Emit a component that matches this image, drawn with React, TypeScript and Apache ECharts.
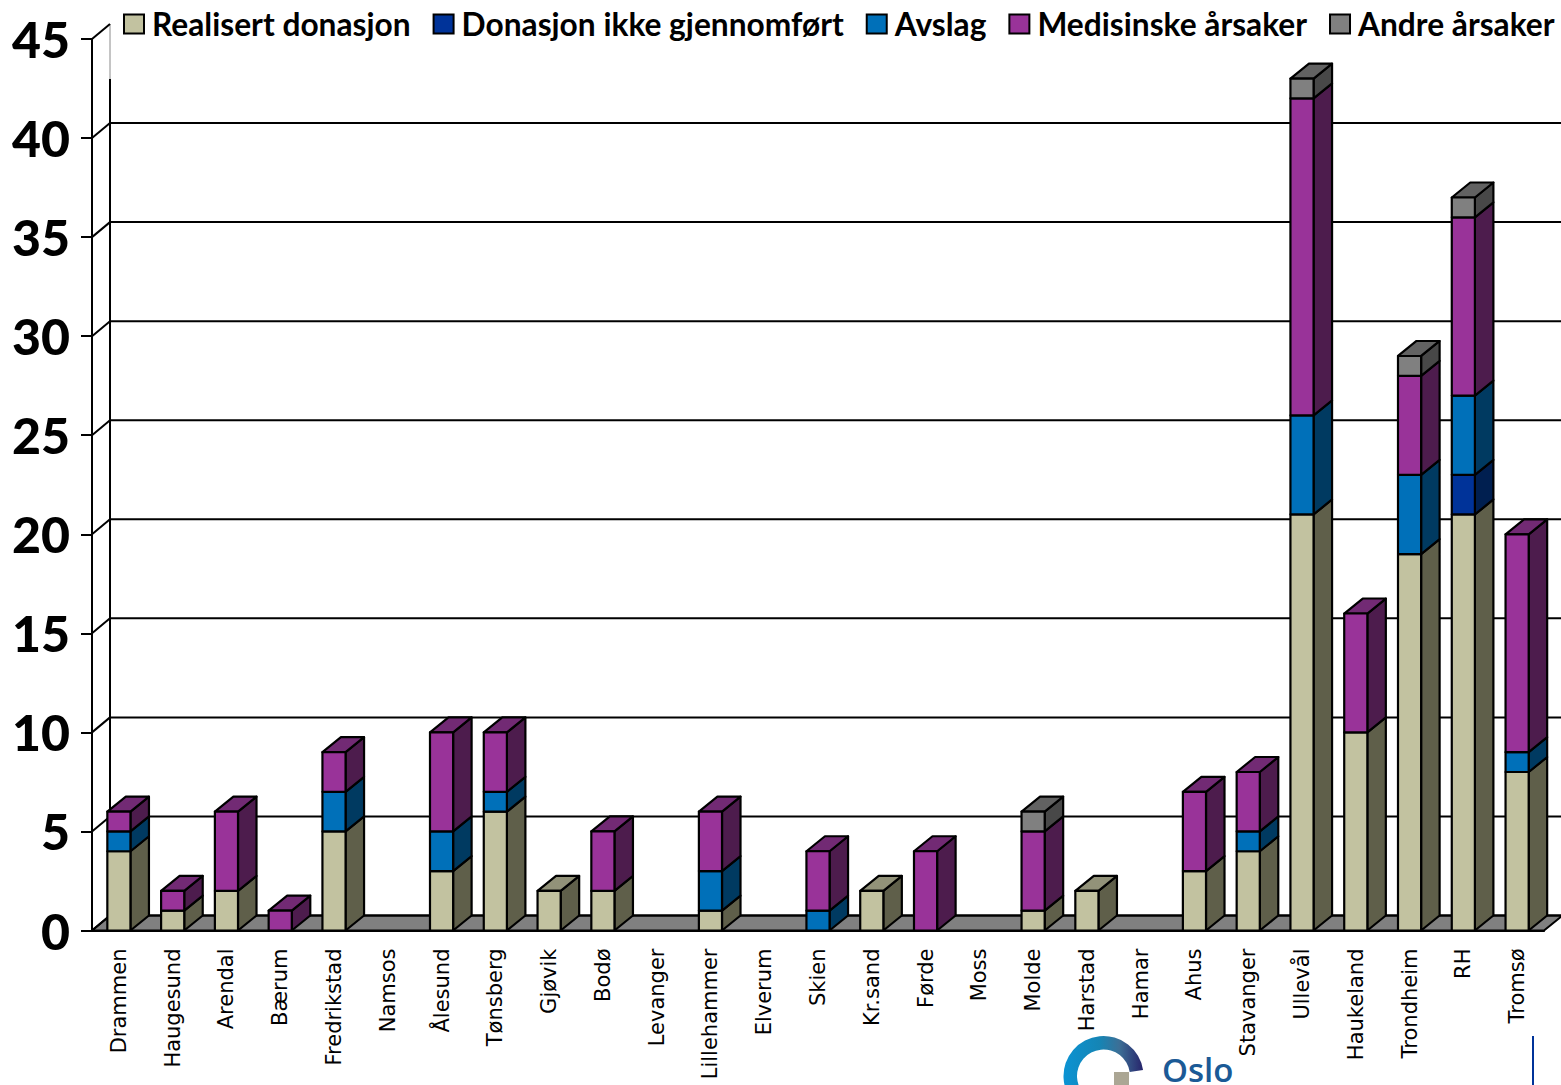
import React, { useEffect, useRef } from "react";
import * as echarts from "echarts";

const categories = ["Drammen","Haugesund","Arendal","Bærum","Fredrikstad","Namsos","Ålesund","Tønsberg","Gjøvik","Bodø","Levanger","Lillehammer","Elverum","Skien","Kr.sand","Førde","Moss","Molde","Harstad","Hamar","Ahus","Stavanger","Ullevål","Haukeland","Trondheim","RH","Tromsø"];
const realisert = [4,1,2,0,5,0,3,6,2,2,0,1,0,0,2,0,0,1,2,0,3,4,21,10,19,21,8];
const ikkeGjennomfort = [0,0,0,0,0,0,0,0,0,0,0,0,0,0,0,0,0,0,0,0,0,0,0,0,0,2,0];
const avslag = [1,0,0,0,2,0,2,1,0,0,0,2,0,1,0,0,0,0,0,0,0,1,5,0,4,4,1];
const medisinske = [1,1,4,1,2,0,5,3,0,3,0,3,0,3,0,4,0,4,0,0,4,3,16,6,5,9,11];
const andre = [0,0,0,0,0,0,0,0,0,0,0,0,0,0,0,0,0,1,0,0,0,0,1,0,1,1,0];
const yTicks = [0,5,10,15,20,25,30,35,40,45];

const stackDefs = [
  { name: "Realisert donasjon", values: realisert, front: "#c2c2a0", side: "#5f5f4a", top: "#929279" },
  { name: "Donasjon ikke gjennomført", values: ikkeGjennomfort, front: "#003399", side: "#001f50", top: "#00266f" },
  { name: "Avslag", values: avslag, front: "#0070b9", side: "#003a61", top: "#00538a" },
  { name: "Medisinske årsaker", values: medisinske, front: "#993399", side: "#4d1c4d", top: "#722a74" },
  { name: "Andre årsaker", values: andre, front: "#808080", side: "#484848", top: "#626262" },
];

const DX = 18.5;
const DY = 15;
const BAR_RATIO = 0.43;

function buildStackData(idx: number) {
  const out: number[][] = [];
  categories.forEach((_, c) => {
    let base = 0;
    for (let i = 0; i < idx; i++) base += stackDefs[i].values[c];
    const v = stackDefs[idx].values[c];
    if (!v) return;
    let above = 0;
    for (let i = idx + 1; i < stackDefs.length; i++) above += stackDefs[i].values[c];
    out.push([c, base, base + v, above === 0 ? 1 : 0]);
  });
  return out;
}

const stroke = { stroke: "#000", lineWidth: 2.2, lineJoin: "round" };

function App() {
  const ref = useRef<HTMLDivElement>(null);
  useEffect(() => {
    document.body.style.margin = "0";
    document.body.style.overflow = "hidden";
    const chart = echarts.init(ref.current!, null, { renderer: "svg" });

    const wall = {
      type: "custom",
      silent: true,
      z: 1,
      data: yTicks.map((v) => [0, v]),
      encode: { x: 0, y: 1 },
      renderItem: (params: any, api: any) => {
        const v = api.value(1);
        const cs = params.coordSys;
        const left = cs.x;
        const right = cs.x + cs.width;
        const y = api.coord([0, v])[1];
        const children: any[] = [
          { type: "line", shape: { x1: left, y1: y, x2: left + 18, y2: y - DY }, style: { stroke: "#000", lineWidth: 2 } },
        ];
        if (v === 0) {
          children.unshift({
            type: "polygon",
            shape: { points: [[left, y], [right, y], [right + DX, y - DY], [left + 18, y - DY]] },
            style: { fill: "#808080", stroke: "#000", lineWidth: 2 },
          });
          children.push({ type: "line", shape: { x1: left + 18, y1: y - DY, x2: left + 18, y2: cs.y + 40 }, style: { stroke: "#000", lineWidth: 2 } });
          children.push({ type: "line", shape: { x1: left + 18, y1: cs.y + 40, x2: left + 18, y2: cs.y - DY }, style: { stroke: "#8a8a8a", lineWidth: 1 } });
        }
        if (v !== yTicks[yTicks.length - 1]) {
          children.push({ type: "line", shape: { x1: left + 18, y1: y - DY, x2: right + DX, y2: y - DY }, style: { stroke: "#000", lineWidth: 2 } });
        }
        return { type: "group", children };
      },
    };

    const bars = stackDefs.map((d, idx) => ({
      type: "custom",
      name: d.name,
      z: 2,
      itemStyle: { color: d.front, borderColor: "#000", borderWidth: 2 },
      data: buildStackData(idx),
      encode: { x: 0, y: [1, 2] },
      renderItem: (_: any, api: any) => {
        const c = api.value(0);
        const p0 = api.coord([c, api.value(1)]);
        const p1 = api.coord([c, api.value(2)]);
        const w = api.size([1, 0])[0] * BAR_RATIO;
        const x0 = p0[0] - w / 2;
        const x1 = p0[0] + w / 2;
        const children: any[] = [
          { type: "polygon", shape: { points: [[x1, p0[1]], [x1 + DX, p0[1] - DY], [x1 + DX, p1[1] - DY], [x1, p1[1]]] }, style: { fill: d.side, ...stroke } },
        ];
        if (api.value(3) === 1) {
          children.push({ type: "polygon", shape: { points: [[x0, p1[1]], [x1, p1[1]], [x1 + DX, p1[1] - DY], [x0 + DX, p1[1] - DY]] }, style: { fill: d.top, ...stroke } });
        }
        children.push({ type: "rect", shape: { x: x0, y: p1[1], width: w, height: p0[1] - p1[1] }, style: { fill: d.front, ...stroke } });
        return { type: "group", children };
      },
    }));

    chart.setOption({
      animation: false,
      backgroundColor: "#fff",
      grid: { left: 92, right: 17, top: 39, bottom: 154.5, containLabel: false },
      legend: {
        left: 123,
        top: 8,
        width: 1436,
        padding: 0,
        itemWidth: 20,
        itemHeight: 19,
        itemGap: 22,
        icon: "rect",
        data: stackDefs.map((d) => d.name),
        selectedMode: false,
        textStyle: { fontFamily: "Lato", fontWeight: "bold", fontSize: 31.7, color: "#000", padding: [0, 0, 0, 3] },
      },
      xAxis: {
        type: "category",
        data: categories,
        axisLine: { lineStyle: { color: "#000", width: 2 } },
        axisTick: { alignWithLabel: false, length: 12, lineStyle: { color: "#000", width: 2 } },
        axisLabel: { interval: 0, rotate: 90, margin: 18, fontFamily: "DejaVu Sans", fontSize: 21, color: "#000" },
      },
      yAxis: {
        type: "value",
        min: 0,
        max: 45,
        interval: 5,
        splitLine: { show: false },
        axisLine: { show: true, lineStyle: { color: "#000", width: 2 } },
        axisTick: { show: true, length: 11, lineStyle: { color: "#000", width: 2 } },
        axisLabel: { margin: 22, fontFamily: "Lato", fontWeight: 900, fontSize: 50, color: "#000" },
      },
      series: [wall, ...bars],
      graphic: [
        {
          type: "sector",
          shape: { cx: 1103.5, cy: 1076, r0: 26.5, r: 40, startAngle: Math.PI * 0.5, endAngle: Math.PI * 2 - 0.15, clockwise: true },
          style: {
            fill: new echarts.graphic.LinearGradient(0, 0, 1, 0, [
              { offset: 0, color: "#0b93d3" },
              { offset: 0.45, color: "#1585b5" },
              { offset: 0.7, color: "#3c6f96" },
              { offset: 1, color: "#27246b" },
            ]),
          },
        },
        { type: "rect", shape: { x: 1114, y: 1072, width: 15, height: 13 }, style: { fill: "#aba694" } },
        { type: "text", x: 1162, y: 1053, style: { text: "Oslo", fontFamily: "Open Sans", fontSize: 33, fontWeight: 600, fill: "#1b5a96" } },
        { type: "rect", shape: { x: 1532, y: 1036, width: 2, height: 49 }, style: { fill: "#003399" } },
      ],
    });
    return () => chart.dispose();
  }, []);
  return <div ref={ref} style={{ width: 1561, height: 1085 }} />;
}

export default App;
